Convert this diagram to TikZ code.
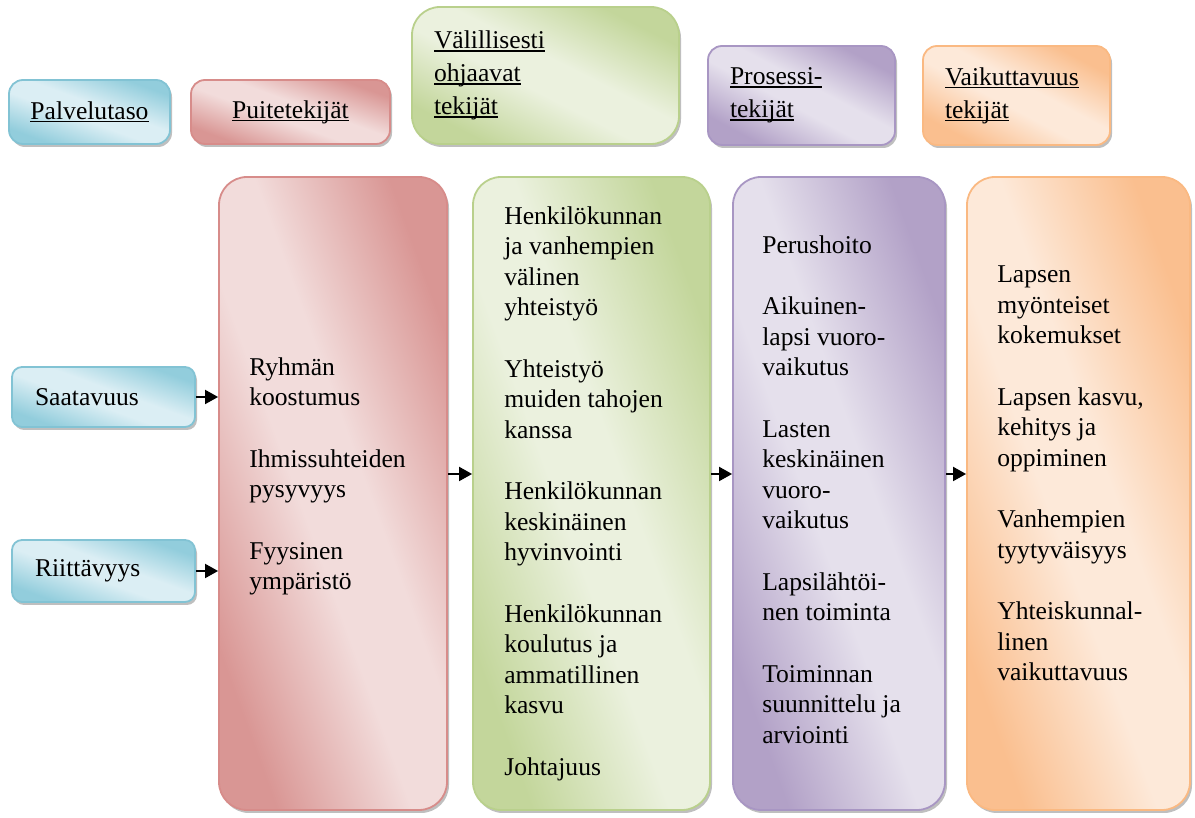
\documentclass[tikz,border=0pt]{standalone}
\usepackage{fontspec}
\setmainfont{Liberation Serif}
\usetikzlibrary{arrows.meta,shadows}

\definecolor{bluedk}{RGB}{146,205,220}
\definecolor{bluelt}{RGB}{219,238,244}
\definecolor{blueln}{RGB}{130,195,212}
\definecolor{reddk}{RGB}{217,150,148}
\definecolor{redlt}{RGB}{242,220,219}
\definecolor{redln}{RGB}{215,140,138}
\definecolor{grndk}{RGB}{195,214,155}
\definecolor{grnlt}{RGB}{235,241,222}
\definecolor{grnln}{RGB}{185,208,140}
\definecolor{purdk}{RGB}{178,161,199}
\definecolor{purlt}{RGB}{229,224,236}
\definecolor{purln}{RGB}{168,150,195}
\definecolor{orgdk}{RGB}{250,191,143}
\definecolor{orglt}{RGB}{253,233,217}
\definecolor{orgln}{RGB}{250,185,130}
\colorlet{shdk}{reddk}
\colorlet{shlt}{redlt}

\pgfdeclarehorizontalshading[shdk,shlt]{band}{100bp}{color(0bp)=(shdk); color(26bp)=(shdk); color(45bp)=(shlt); color(55bp)=(shlt); color(74bp)=(shdk); color(100bp)=(shdk)}

\newsavebox\ulbox
\newcommand{\uln}[1]{\leavevmode\sbox\ulbox{#1}\rlap{\rule[-3pt]{\wd\ulbox}{1.3pt}}\usebox\ulbox}

\tikzset{
	colbox/.style={draw=#1ln, line width=1.8pt, /utils/exec={\colorlet{shdk}{#1dk}\colorlet{shlt}{#1lt}}, shading=band,
		drop shadow={shadow xshift=2pt, shadow yshift=-3pt, fill=black, opacity=0.25}},
	head/.style={rounded corners=14pt, inner sep=0pt, shading angle=70, font=\fontsize{25.6}{33}\selectfont},
	big/.style={rounded corners=28pt, minimum height=633pt, shading angle=20},
	body/.style={anchor=west, inner sep=0pt, align=left, font=\fontsize{25.6}{30.5}\selectfont},
	>={Triangle[length=13pt,width=14pt]}
}

\begin{document}
\begin{tikzpicture}[x=1pt,y=1pt]
	\useasboundingbox (0,0) rectangle (1195,818);
	% otsikot
	\node[head, colbox=blue, minimum width=161pt, minimum height=64pt] at (89.5,706) (hpal) {\uln{Palvelutaso}};
	\node[head, colbox=red, minimum width=199pt, minimum height=64pt] at (290.5,706) (hpuite) {\uln{Puitetekijät}};
	\node[head, colbox=grn, rounded corners=28pt, shading angle=63, minimum width=267pt, minimum height=137pt, text width=223pt, align=left] at (545.5,742.5) (hvali) {\uln{Välillisesti}\\\uln{ohjaavat}\\\uln{tekijät}};
	\node[head, colbox=pur, shading angle=62, minimum width=187pt, minimum height=99pt, text width=143pt, align=left] at (801.5,722.5) (hpros) {\uln{Prosessi-}\\\uln{tekijät}};
	\node[head, colbox=org, shading angle=62, minimum width=187pt, minimum height=99pt, text width=143pt, align=left] at (1016.5,722.5) (hvaik) {\uln{Vaikuttavuus}\\\uln{tekijät}};
	% palvelutaso
	\node[head, colbox=blue, rounded corners=10pt, minimum width=183pt, minimum height=60pt, text width=137pt, align=left] at (103.5,421) (saat) {Saatavuus};
	\node[head, colbox=blue, rounded corners=10pt, minimum width=183pt, minimum height=62pt, text width=137pt, align=left] at (103.5,247) (riit) {Riittävyys};
	% laatikot
	\node[big, colbox=red, minimum width=228pt] at (333,324.5) (bpuite) {};
	\node[big, colbox=grn, minimum width=237pt] at (591.5,324.5) (bvali) {};
	\node[big, colbox=pur, minimum width=212pt] at (839,324.5) (bpros) {};
	\node[big, colbox=org, minimum width=223pt] at (1078.5,324.5) (bvaik) {};
	\node[body] at ([xshift=31pt,yshift=17pt]bpuite.west) (tpuite) {Ryhmän\\koostumus\\[31pt]Ihmissuhteiden\\pysyvyys\\[31pt]Fyysinen\\ympäristö};
	\node[body] at ([xshift=32pt]bvali.west) (tvali) {Henkilökunnan\\ja vanhempien\\välinen\\yhteistyö\\[31pt]Yhteistyö\\muiden tahojen\\kanssa\\[31pt]Henkilökunnan\\keskinäinen\\hyvinvointi\\[31pt]Henkilökunnan\\koulutus ja\\ammatillinen\\kasvu\\[31pt]Johtajuus};
	\node[body] at ([xshift=30pt,yshift=4pt]bpros.west) (tpros) {Perushoito\\[31pt]Aikuinen-\\lapsi vuoro-\\vaikutus\\[31pt]Lasten\\keskinäinen\\vuoro-\\vaikutus\\[31pt]Lapsilähtöi-\\nen toiminta\\[31pt]Toiminnan\\suunnittelu ja\\arviointi};
	\node[body] at ([xshift=31pt,yshift=20pt]bvaik.west) (tvaik) {Lapsen\\myönteiset\\kokemukset\\[31pt]Lapsen kasvu,\\kehitys ja\\oppiminen\\[31pt]Vanhempien\\tyytyväisyys\\[31pt]Yhteiskunnal-\\linen\\vaikuttavuus};
	% nuolet
	\path[->, line width=1.8pt] (saat) edge (saat -| bpuite.west);
	\path[->, line width=1.8pt] (riit) edge (riit -| bpuite.west);
	\path[->, line width=1.8pt] ([yshift=19.5pt]bpuite.east) edge ([yshift=19.5pt]bvali.west);
	\path[->, line width=1.8pt] ([yshift=19.5pt]bvali.east) edge ([yshift=19.5pt]bpros.west);
	\path[->, line width=1.8pt] ([yshift=19.5pt]bpros.east) edge ([yshift=19.5pt]bvaik.west);
\end{tikzpicture}
\end{document}
